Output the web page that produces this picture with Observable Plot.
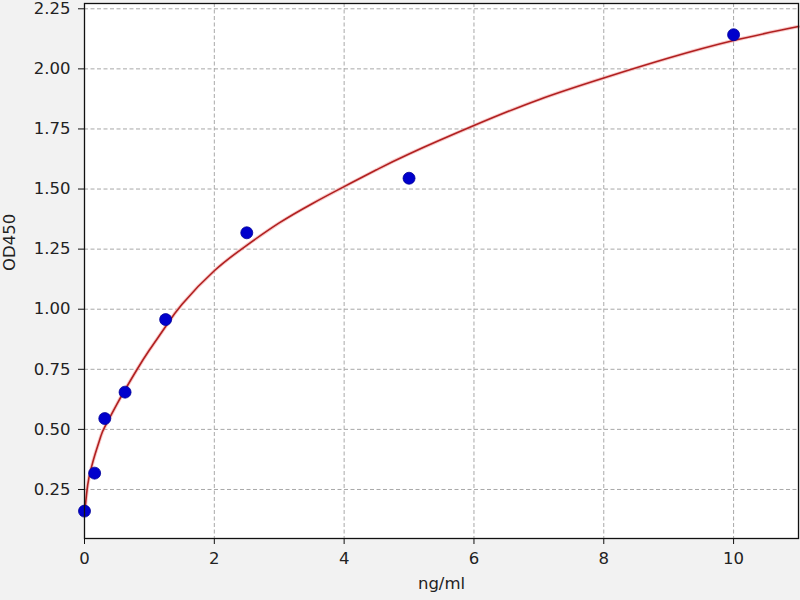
<!DOCTYPE html>
<html>
<head>
<meta charset="utf-8">
<script src="https://cdn.jsdelivr.net/npm/d3@7"></script>
<script src="https://cdn.jsdelivr.net/npm/@observablehq/plot@0.6"></script>
<style>
  body { margin: 0; background: #f2f2f2; }
</style>
</head>
<body>
<div id="chart"></div>
<script>
// standards (ng/ml) and measured OD450
const conc = [0, 0.156, 0.3125, 0.625, 1.25, 2.5, 5, 10];
const od = [0.16, 0.318, 0.545, 0.655, 0.957, 1.318, 1.545, 2.142];

// fitted curve
const fitX = [0, 0.05, 0.1, 0.156, 0.25, 0.3125, 0.5, 0.625, 0.8, 1, 1.25, 1.5, 2, 2.5, 3, 3.5, 4, 4.5, 5, 6, 7, 8, 9, 10, 11];
const fitY = [0.145, 0.27, 0.335, 0.39, 0.47, 0.51, 0.605, 0.665, 0.745, 0.83, 0.928, 1.02, 1.16, 1.266, 1.359, 1.438, 1.51, 1.58, 1.646, 1.764, 1.872, 1.962, 2.045, 2.118, 2.176];

const xTicks = [0, 2, 4, 6, 8, 10];
const yTicks = [0.25, 0.5, 0.75, 1.0, 1.25, 1.5, 1.75, 2.0, 2.25];

const points = conc.map((c, i) => ({c, od: od[i]}));
const fit = fitX.map((c, i) => ({c, od: fitY[i]}));

const chart = Plot.plot({
  width: 800,
  height: 600,
  marginLeft: 84,
  marginRight: 2,
  marginTop: 3,
  marginBottom: 62,
  x: {domain: [0, 11]},
  y: {domain: [0.046, 2.272]},
  style: {
    fontFamily: "DejaVu Sans",
    fontSize: "16.5px",
    color: "#222",
    background: "#f2f2f2"
  },
  marks: [
    Plot.frame({fill: "white"}),
    Plot.gridX(xTicks, {stroke: "#a8a8a8", strokeOpacity: 1, strokeDasharray: "4,2.5"}),
    Plot.gridY(yTicks, {stroke: "#a8a8a8", strokeOpacity: 1, strokeDasharray: "4,2.5"}),
    Plot.line(fit, {x: "c", y: "od", stroke: "#f3a5a5", strokeWidth: 3.5, strokeOpacity: 0.6, curve: "natural"}),
    Plot.line(fit, {x: "c", y: "od", stroke: "#b02020", strokeWidth: 1.6, curve: "natural"}),
    Plot.dot(points, {x: "c", y: "od", r: 6, fill: "#0000cc", stroke: "#000099", strokeWidth: 0.8}),
    Plot.frame({stroke: "#111", strokeWidth: 1.3}),
    Plot.axisX({ticks: xTicks, tickSize: 6, tickPadding: 8, label: null, stroke: "#111"}),
    Plot.axisY({ticks: yTicks, tickSize: 6, tickPadding: 8, label: null, tickFormat: d3.format(".2f"), stroke: "#111"}),
    Plot.text(["ng/ml"], {frameAnchor: "bottom", dy: 50, fill: "#222"}),
    Plot.text(["OD450"], {frameAnchor: "left", dx: -75, rotate: -90, fill: "#222"})
  ]
});

d3.select("#chart").append(() => chart);
</script>
</body>
</html>
